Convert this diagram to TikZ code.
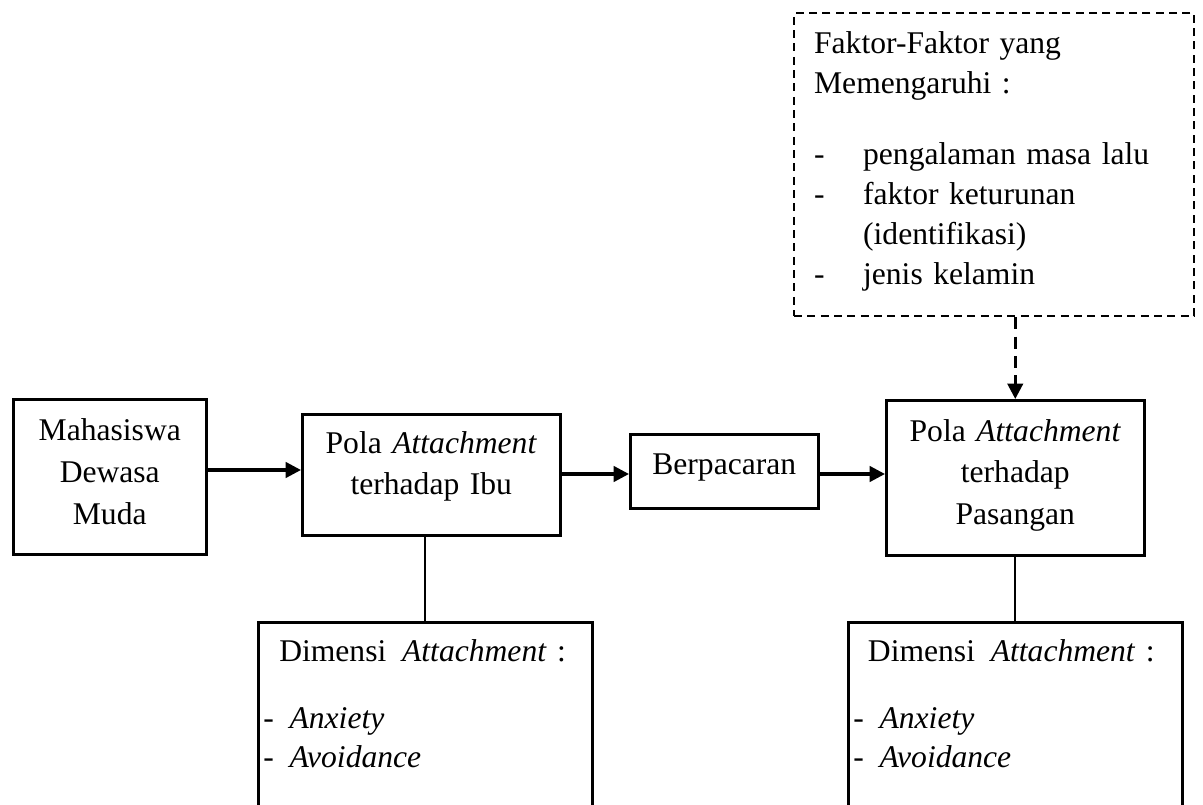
\documentclass[tikz,border=0pt]{standalone}
\usepackage{fontspec}
\setmainfont{Liberation Serif}
\usetikzlibrary{arrows.meta}
\tikzset{
  boxbase/.style={draw, line width=1.9pt, anchor=north west, text height=16.5pt,
    font=\fontsize{23.7}{31.2}\selectfont},
  cbox/.style={boxbase, align=center},
  lbox/.style={boxbase, align=left},
  arr/.style={line width=2.4pt, -{Triangle[length=11.5pt,width=11.5pt]}},
  darr/.style={line width=2.2pt, dash pattern=on 9pt off 5.5pt, -{Triangle[length=11.5pt,width=11.5pt]}},
  plain/.style={line width=1.7pt}
}
\begin{document}
\begin{tikzpicture}[x=0.75pt,y=-0.75pt]
\useasboundingbox (0,0) rectangle (1203,805);
% Mahasiswa
\node[cbox, inner xsep=2.25pt, inner ysep=14.25pt, text width=140.25pt, text depth=71.25pt,
  font=\fontsize{23.7}{31.5}\selectfont] (A) at (12,398)
  {Mahasiswa\\Dewasa\\Muda};
% Pola Attachment terhadap Ibu
\node[cbox, inner xsep=2.25pt, inner ysep=12.75pt, text width=189pt, text depth=48.75pt,
  font=\fontsize{23.7}{30.75}\selectfont] (B) at (301,413)
  {Pola \textit{Attachment}\\terhadap Ibu};
% Berpacaran
\node[cbox, inner xsep=2.25pt, inner ysep=13.5pt, text width=136.5pt, text depth=12pt] (C) at (629,433)
  {Berpacaran};
% Pola Attachment terhadap Pasangan
\node[cbox, inner xsep=2.25pt, inner ysep=14.25pt, text width=189pt, text depth=71.25pt,
  font=\fontsize{23.7}{31.1}\selectfont] (D) at (885,399)
  {Pola \textit{Attachment}\\terhadap\\Pasangan};
% Faktor box (dashed)
\node[lbox, line width=1.7pt, dash pattern=on 6pt off 4pt, inner xsep=15pt, inner ysep=13.5pt, text width=270pt,
  text depth=183.75pt, font=\fontsize{23.7}{30}\selectfont] (E) at (793,12)
  {Faktor-Faktor yang\\
   Memengaruhi :\\[23.25pt]
   \makebox[36.75pt][l]{-}pengalaman masa lalu\\
   \makebox[36.75pt][l]{-}faktor keturunan\\
   \hspace*{36.75pt}(identifikasi)\\
   \makebox[36.75pt][l]{-}jenis kelamin};
% Dimensi boxes
\node[lbox, inner xsep=3.75pt, inner ysep=12.75pt, text width=243pt, text depth=187.5pt,
  font=\fontsize{23.7}{29.25}\selectfont] (F) at (257,621)
  {\hspace*{12pt}Dimensi\hspace{0.5em}\textit{Attachment} :\\[21pt]
   -\hspace{0.5em}\textit{Anxiety}\\
   -\hspace{0.5em}\textit{Avoidance}};
\node[lbox, inner xsep=3.75pt, inner ysep=12.75pt, text width=243pt, text depth=187.5pt,
  font=\fontsize{23.7}{29.25}\selectfont] (G) at (847,621)
  {\hspace*{11pt}Dimensi\hspace{0.5em}\textit{Attachment} :\\[21pt]
   -\hspace{0.5em}\textit{Anxiety}\\
   -\hspace{0.5em}\textit{Avoidance}};
% connectors
\coordinate (r1) at (0,470);
\coordinate (r2) at (0,474);
\draw[arr] (A.east |- r1) -- (B.west |- r1);
\draw[arr] (B.east |- r2) -- (C.west |- r2);
\draw[arr] (C.east |- r2) -- (D.west |- r2);
\draw[darr] (D.north |- E.south) -- (D.north);
\draw[plain] (F.north |- B.south) -- (F.north);
\draw[plain] (D.south) -- (D.south |- G.north);
\end{tikzpicture}
\end{document}
